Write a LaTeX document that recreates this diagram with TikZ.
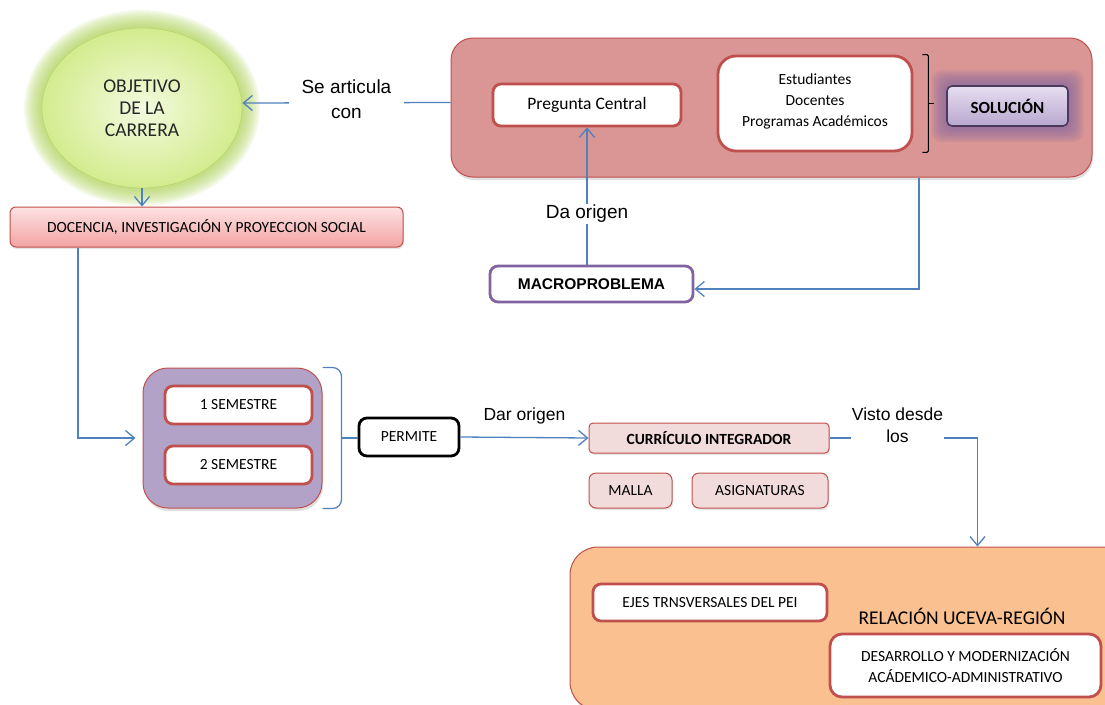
\documentclass[tikz,border=0pt]{standalone}
\usepackage{fontspec}
\setmainfont{Carlito}
\newfontfamily\arialfont{Liberation Sans}
\usetikzlibrary{shapes.geometric,arrows.meta,shadows}

\definecolor{rojo}{HTML}{C0504D}
\definecolor{azul}{HTML}{4F81BD}
\definecolor{rosa}{HTML}{D99694}
\definecolor{rosaclaro}{HTML}{F2DCDB}
\definecolor{docarriba}{HTML}{FDE2E2}
\definecolor{docabajo}{HTML}{F3A3A3}
\definecolor{lila}{HTML}{B3A2C7}
\definecolor{lilaclaro}{HTML}{E6DEF0}
\definecolor{lilaoscuro}{HTML}{B9A7CF}
\definecolor{morado}{HTML}{8064A2}
\definecolor{moradooscuro}{HTML}{4B3A5E}
\definecolor{naranja}{HTML}{FAC090}
\definecolor{verde}{HTML}{A9CF4F}
\definecolor{verdeclaro}{HTML}{F3FADF}
\definecolor{verdeoscuro}{HTML}{D3EC8E}

\newcommand{\chico}{\fontsize{15.5}{21}\selectfont}

\begin{document}
\begin{tikzpicture}[x=1pt,y=-1pt,node distance=60pt,
	caja/.style={draw=rojo,line width=2.8pt,fill=white,rounded corners=8pt,inner sep=0pt,font=\chico},
	fondo/.style={draw=rojo,line width=1pt,rounded corners=22pt,drop shadow={shadow xshift=1pt,shadow yshift=-3pt,opacity=.25}},
	chip/.style={draw=rojo,line width=1pt,fill=rosaclaro,rounded corners=7pt,inner sep=0pt,font=\chico,drop shadow={shadow xshift=1pt,shadow yshift=-2pt,opacity=.2}},
	flecha/.style={draw=azul,line width=1.3pt,-{Straight Barb[length=9pt,width=15pt]}},
	etiq/.style={fill=white,inner sep=1pt,align=center,font=\arialfont\fontsize{19}{25}\selectfont}]
	\useasboundingbox (0,0) rectangle (1105,704);
	\foreach \g in {18,16,...,2}
		\fill[verde,opacity=.12] (142,108) ellipse [x radius=100+\g, y radius=80+\g];
	\node (obj) [ellipse,draw=verde!80,line width=.8pt,inner color=verdeclaro,outer color=verdeoscuro,minimum width=200pt,minimum height=160pt,align=center,text=black!85,font=\fontsize{19.5}{22}\selectfont] at (142,108) {OBJETIVO\\DE LA\\CARRERA};
	\node (doc) [draw=rojo,line width=1pt,rounded corners=6pt,top color=docarriba,bottom color=docabajo,minimum width=393pt,minimum height=40pt,inner sep=0pt,font=\chico,drop shadow={shadow xshift=1pt,shadow yshift=-2pt,opacity=.2}] at (206.5,227) {DOCENCIA, INVESTIGACIÓN Y PROYECCION SOCIAL};

	\node (big) [fondo,fill=rosa,minimum width=641pt,minimum height=139pt] at (771.5,107.5) {};
	\node (preg) [caja,minimum width=188pt,minimum height=42pt,font=\fontsize{17.5}{21}\selectfont] at (587,105) {Pregunta Central};
	\node (est) [caja,rounded corners=18pt,minimum width=194pt,minimum height=95pt,align=center] at (815,103.5) {Estudiantes\\Docentes\\Programas Académicos\\[-15pt]};
	\draw[line width=1pt,rounded corners=1.5pt] ([xshift=9pt]est.north east) -| ([xshift=15pt]est.east) |- ([xshift=9pt]est.south east);
	\draw[line width=1pt] ([xshift=15pt]est.east) -- ++(6,0);
	\coordinate (solc) at (1007.5,106);
	\foreach \g in {16,14,...,2}
		\fill[morado,opacity=.13,rounded corners=10pt] ([shift={(-60-\g,-20-\g)}]solc) rectangle ([shift={(60+\g,20+\g)}]solc);
	\node (sol) [draw=moradooscuro,line width=1.6pt,rounded corners=5pt,top color=lilaclaro,bottom color=lilaoscuro,minimum width=121pt,minimum height=40pt,inner sep=0pt,font=\bfseries\fontsize{17}{20}\selectfont] at (solc) {SOLUCIÓN};
	\node (mac) [caja,draw=morado,minimum width=203pt,minimum height=36pt,font=\arialfont\bfseries\fontsize{15.5}{18}\selectfont] at (591.5,284) {MACROPROBLEMA};

	\node (sem) [fondo,fill=lila,rounded corners=25pt,minimum width=179pt,minimum height=140pt] at (232.5,438) {};
	\node (s1) [caja,minimum width=147pt,minimum height=38pt] at (238.5,405) {1 SEMESTRE};
	\node (s2) [caja,minimum width=147pt,minimum height=38pt,below of=s1] {2 SEMESTRE};
	\node (per) [caja,draw=black,minimum width=100pt,minimum height=38pt] at (409,437) {PERMITE};
	\node (cur) [chip,rounded corners=4pt,minimum width=240pt,minimum height=30pt,font=\bfseries\chico] at (709,438) {CURRÍCULO INTEGRADOR};
	\node (mal) [chip,minimum width=83pt,minimum height=35pt] at (630.5,490.5) {MALLA};
	\node (asg) [chip,minimum width=136pt,minimum height=35pt] at (760,490.5) {ASIGNATURAS};

	\node (bot) [fondo,fill=naranja,rounded corners=28pt,minimum width=815pt,minimum height=163pt] at (977.5,628.5) {};
	\node (ejes) [caja,minimum width=234pt,minimum height=37pt] at (710,602.5) {EJES TRNSVERSALES DEL PEI};
	\node (rel) [font=\fontsize{19.5}{22}\selectfont] at (962,616) {RELACIÓN UCEVA-REGIÓN};
	\node (des) [caja,rounded corners=12pt,minimum width=271pt,minimum height=63pt,align=center] at (965.5,665.5) {DESARROLLO Y MODERNIZACIÓN\\ACÁDEMICO-ADMINISTRATIVO};

	\draw[flecha] ([yshift=5pt]big.west) to node [etiq,minimum width=115pt,yshift=4pt] {Se articula\\con} ([yshift=5pt]obj.east);
	\draw[flecha] (obj.south) -- (obj.south |- doc.north);
	\draw[flecha,shorten >=7pt] ([xshift=-128.5pt]doc.south) |- (sem.west);
	\draw[flecha] (preg.south |- mac.north) to node [etiq,pos=.37] {Da origen} (preg.south);
	\draw[flecha] ([xshift=147.5pt]big.south) |- ([yshift=-5pt]mac.east);
	\draw[azul,line width=1.2pt,rounded corners=9pt] (sem.north east) -| ([xshift=19pt]sem.east) |- (sem.south east);
	\draw[azul,line width=1.2pt] ([xshift=19pt]sem.east) -- (sem.east -| per.west);
	\draw[flecha] (per.east) to node [etiq,above=12pt,font=\arialfont\fontsize{17.5}{22}\selectfont] {Dar origen} (cur.west);
	\draw[flecha] (cur.east) -| node [etiq,pos=.25,xshift=-6pt,yshift=13pt,font=\arialfont\fontsize{17.5}{22}\selectfont] {Visto desde\\los} (bot.north);
\end{tikzpicture}
\end{document}
